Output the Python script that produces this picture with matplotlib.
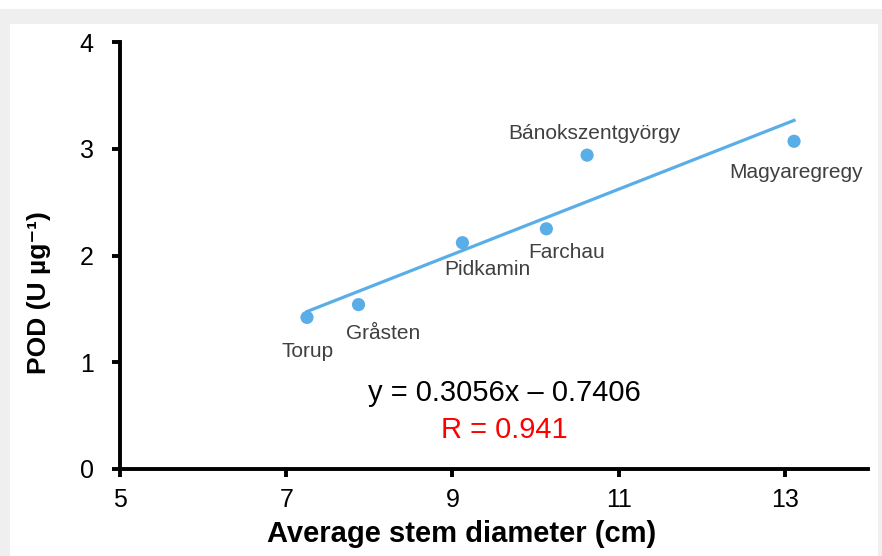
import matplotlib
matplotlib.use("Agg")
import matplotlib.pyplot as plt
from matplotlib.patches import Rectangle
import numpy as np

plt.rcParams['font.family'] = ['Liberation Sans', 'DejaVu Sans']

sites = ["Torup", "Gråsten", "Pidkamin", "Farchau", "Bánokszentgyörgy", "Magyaregregy"]
diameter = [7.25, 7.87, 9.12, 10.13, 10.62, 13.11]
pod = [1.42, 1.54, 2.12, 2.25, 2.94, 3.07]
slope = 0.3056
intercept = -0.7406
xticks = [5, 7, 9, 11, 13]
yticks = [0, 1, 2, 3, 4]

W, H = 882, 556
fig = plt.figure(figsize=(W/100, H/100), dpi=100, facecolor='white')
fig.patches.append(Rectangle((0, 0), 1, (H-9)/H, transform=fig.transFigure,
                             facecolor='#efefef', edgecolor='none', zorder=-2))
fig.patches.append(Rectangle((10/W, 0), (878-10)/W, (H-24)/H, transform=fig.transFigure,
                             facecolor='white', edgecolor='none', zorder=-1))

ax = fig.add_axes([120/W, 1-469/H, (868-120)/W, (469-42)/H])
ax.set_facecolor('none')
blue = '#5AAEE8'
ax.scatter(diameter, pod, s=90, color=blue, zorder=3, edgecolors='none')
xl = np.array([min(diameter), max(diameter)])
ax.plot(xl, slope*xl + intercept, color=blue, lw=2.3, zorder=2)

ax.set_xlim(5, 14)
ax.set_ylim(0, 4)
ax.set_xticks(xticks)
ax.set_yticks(yticks)
for s in ['top', 'right']:
    ax.spines[s].set_visible(False)
for s in ['left', 'bottom']:
    ax.spines[s].set_linewidth(2.8)
    ax.spines[s].set_color('black')
ax.tick_params(direction='out', length=6, width=2.8, labelsize=18, colors='black')
ax.tick_params(axis='x', pad=8)
ax.tick_params(axis='y', pad=13)

fig.text(462/W, 1-542/H, "Average stem diameter (cm)", ha='center', va='baseline',
         fontsize=21, fontweight='bold')
fig.text(39/W, 1-293/H, "POD (U µg⁻¹)", ha='center', va='center', rotation=90,
         fontsize=19, fontweight='bold')

label_pos = {
    "Torup": (7.26, 1.10),
    "Gråsten": (8.16, 1.27),
    "Pidkamin": (9.42, 1.87),
    "Farchau": (10.37, 2.03),
    "Bánokszentgyörgy": (10.71, 3.14),
    "Magyaregregy": (13.13, 2.78),
}
for name in sites:
    x, y = label_pos[name]
    ax.text(x, y, name, ha='center', va='center', fontsize=15, color='#404040')

ax.text(9.63, 0.71, "y = 0.3056x – 0.7406", ha='center', va='center', fontsize=21, color='black')
ax.text(9.63, 0.365, "R = 0.941", ha='center', va='center', fontsize=21, color='red')

fig.savefig("out.png", dpi=100, facecolor=fig.get_facecolor())
